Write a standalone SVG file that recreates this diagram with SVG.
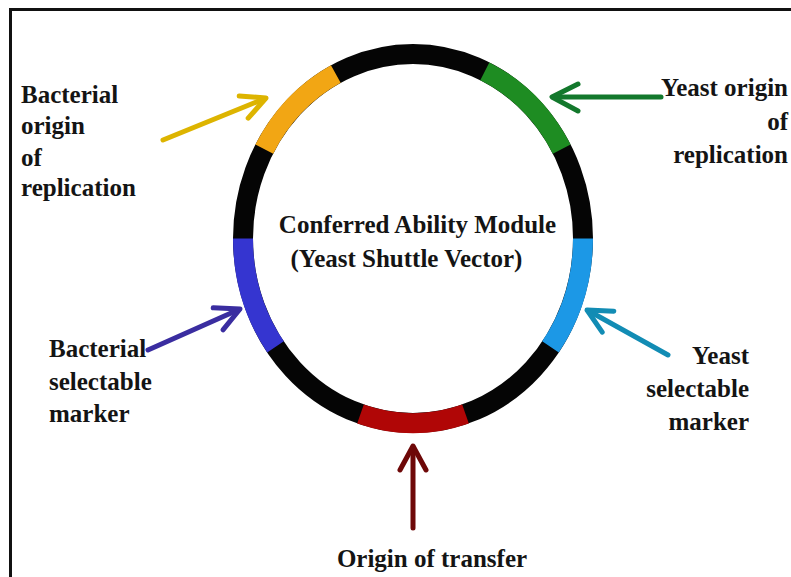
<svg xmlns="http://www.w3.org/2000/svg" width="791" height="577" viewBox="0 0 791 577">
<style>
  text { font-family: "Liberation Serif", "Times New Roman", serif; font-weight: bold; font-size: 25px; fill: #141414; }
  .seg { fill: none; stroke-width: 20; stroke-linecap: butt; }
  .arr { fill: none; stroke-width: 5; stroke-linecap: round; stroke-linejoin: round; }
</style>
<rect x="0" y="0" width="791" height="577" fill="#ffffff"/>
<g id="frame">
  <path d="M 10.5 577 L 10.5 9.5 L 791 9.5" fill="none" stroke="#111" stroke-width="3"/>
</g>
<g id="plasmid">
  <ellipse cx="413" cy="238.5" rx="170" ry="184.5" fill="none" stroke="#050505" stroke-width="20"/>
  <path class="seg" stroke="#F2A614" d="M 264.3 149.1 A 170 184.5 0 0 1 335.8 74.1"/>
  <path class="seg" stroke="#1E8C22" d="M 484.8 71.3 A 170 184.5 0 0 1 561.7 149.1"/>
  <path class="seg" stroke="#1C98E6" d="M 583 238.5 A 170 184.5 0 0 1 550.5 346.9"/>
  <path class="seg" stroke="#B00606" d="M 465.5 414 A 170 184.5 0 0 1 360.5 414"/>
  <path class="seg" stroke="#3535D0" d="M 275.5 346.9 A 170 184.5 0 0 1 243 238.5"/>
</g>
<g id="center-label">
  <text x="417.5" y="233" text-anchor="middle">Conferred Ability Module</text>
  <text x="406.5" y="267" text-anchor="middle">(Yeast Shuttle Vector)</text>
</g>
<g id="connectors">
  <g id="arrow-bacterial-ori" stroke="#DDB400">
    <line class="arr" x1="163" y1="140" x2="265" y2="98.5"/>
    <polyline class="arr" points="239.2,96 266,98 248.2,118.2"/>
  </g>
  <g id="arrow-yeast-ori" stroke="#13782C">
    <line class="arr" x1="661" y1="97" x2="553" y2="97" stroke-width="6"/>
    <polyline class="arr" points="578,84 552,97 578,111"/>
  </g>
  <g id="arrow-bacterial-marker" stroke="#3A2DA0">
    <line class="arr" x1="148" y1="350" x2="239" y2="309.5"/>
    <polyline class="arr" points="213.2,307.8 240,309 223,329.8"/>
  </g>
  <g id="arrow-yeast-marker" stroke="#128CB4">
    <line class="arr" x1="668" y1="355" x2="588" y2="310.5"/>
    <polyline class="arr" points="613.8,311.2 587,310 602.2,332.2"/>
  </g>
  <g id="arrow-transfer" stroke="#6E0808">
    <line class="arr" x1="413" y1="528" x2="413" y2="447"/>
    <polyline class="arr" points="400,470 413,446 426,470"/>
  </g>
</g>
<g id="label-bacterial-ori">
  <text x="21" y="103">Bacterial</text>
  <text x="21" y="134">origin</text>
  <text x="21" y="166">of</text>
  <text x="21" y="196">replication</text>
</g>
<g id="label-yeast-ori">
  <text x="788" y="96" text-anchor="end">Yeast origin</text>
  <text x="788" y="130" text-anchor="end">of</text>
  <text x="788" y="163" text-anchor="end">replication</text>
</g>
<g id="label-bacterial-marker">
  <text x="49" y="357">Bacterial</text>
  <text x="49" y="390">selectable</text>
  <text x="49" y="422">marker</text>
</g>
<g id="label-yeast-marker">
  <text x="749" y="364" text-anchor="end">Yeast</text>
  <text x="749" y="397" text-anchor="end">selectable</text>
  <text x="749" y="430" text-anchor="end">marker</text>
</g>
<g id="label-transfer">
  <text x="432" y="567" text-anchor="middle">Origin of transfer</text>
</g>
</svg>
